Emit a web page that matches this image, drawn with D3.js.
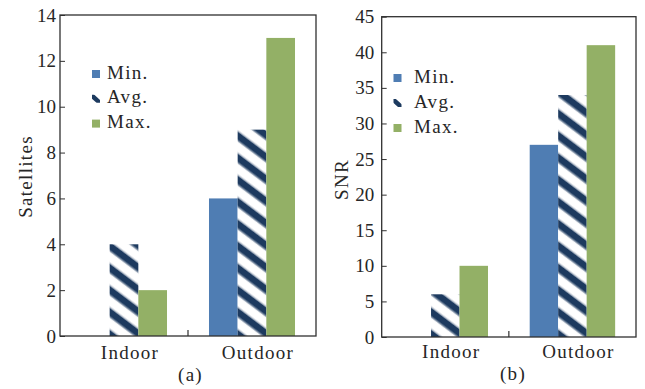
<!DOCTYPE html>
<html>
<head>
<meta charset="utf-8">
<script src="https://cdn.jsdelivr.net/npm/d3@7/dist/d3.min.js"></script>
<style>
  html, body { margin: 0; padding: 0; background: #fff; }
  svg { display: block; }
  text { font-family: "Liberation Serif", "Times New Roman", serif; fill: #262626; }
</style>
</head>
<body>
<svg id="fig" width="645" height="389"></svg>
<script>
// Categories and series
const categories = ["Indoor", "Outdoor"];
const seriesNames = ["Min.", "Avg.", "Max."];

// Panel (a): number of satellites
const satMin = [0, 6];
const satAvg = [4, 9];
const satMax = [2, 13];
const satTicks = [0, 2, 4, 6, 8, 10, 12, 14];

// Panel (b): signal-to-noise ratio
const snrMin = [0, 27];
const snrAvg = [6, 34];
const snrMax = [10, 41];
const snrTicks = [0, 5, 10, 15, 20, 25, 30, 35, 40, 45];

const COLORS = { min: "#4f7db3", max: "#93b066", hatch: "#1d3a5f", axis: "#303030" };
const FONT = 19;

const svg = d3.select("#fig");
svg.append("rect").attr("width", 645).attr("height", 389).attr("fill", "#fff");

// Diagonal stripe fill for the average series
const defs = svg.append("defs");
const pat = defs.append("pattern")
  .attr("id", "hatch")
  .attr("patternUnits", "userSpaceOnUse")
  .attr("width", 20).attr("height", 17.6)
  .attr("patternTransform", "rotate(37)");
pat.append("rect").attr("width", 20).attr("height", 17.6).attr("fill", "#fff");
pat.append("rect").attr("y", 0).attr("width", 20).attr("height", 6.6).attr("fill", COLORS.hatch);
pat.append("rect").attr("y", 6.6).attr("width", 20).attr("height", 1.3).attr("fill", COLORS.hatch).attr("opacity", 0.45);
pat.append("rect").attr("y", 16.3).attr("width", 20).attr("height", 1.3).attr("fill", COLORS.hatch).attr("opacity", 0.45);

const panels = [
  {
    id: "a", ylabel: "Satellites", caption: "(a)",
    min: satMin, avg: satAvg, max: satMax, ticks: satTicks, ymax: 14,
    left: 60, right: 316, top: 15, bottom: 336,
    tickPad: 4, ylabX: 31.5, ylabY: 176.5,
    legX: 92, legY: 74, legStep: 24.8, legTextX: 107,
    xlabY: 358.5, capX: 190.5, capY: 381
  },
  {
    id: "b", ylabel: "SNR", caption: "(b)",
    min: snrMin, avg: snrAvg, max: snrMax, ticks: snrTicks, ymax: 45,
    left: 381.7, right: 636, top: 16.7, bottom: 337,
    tickPad: 7.5, ylabX: 348, ylabY: 179.5,
    legX: 393.5, legY: 78, legStep: 25, legTextX: 414,
    xlabY: 357.5, capX: 513, capY: 380
  }
];

panels.forEach(p => {
  const g = svg.append("g").attr("class", "panel-" + p.id);

  const x0 = d3.scaleBand().domain(categories).range([p.left, p.right]).padding(0);
  const groupW = x0.bandwidth() * 0.672;
  const x1 = d3.scaleBand().domain(seriesNames).range([0, groupW]).padding(0);
  const y = d3.scaleLinear().domain([0, p.ymax]).range([p.bottom, p.top]);

  const rows = categories.map((c, i) => ({
    cat: c,
    vals: [
      { s: "Min.", v: p.min[i], fill: COLORS.min },
      { s: "Avg.", v: p.avg[i], fill: "url(#hatch)" },
      { s: "Max.", v: p.max[i], fill: COLORS.max }
    ]
  }));

  // Bars
  const groups = g.selectAll("g.grp").data(rows).join("g")
    .attr("class", "grp")
    .attr("transform", d => `translate(${x0(d.cat) + (x0.bandwidth() - groupW) / 2},0)`);
  groups.selectAll("rect").data(d => d.vals.filter(v => v.v > 0)).join("rect")
    .attr("x", d => x1(d.s))
    .attr("width", x1.bandwidth())
    .attr("y", d => y(d.v))
    .attr("height", d => y(0) - y(d.v))
    .attr("fill", d => d.fill);

  // Y axis with inward ticks
  const yAxis = d3.axisLeft(y).tickValues(p.ticks).tickSizeInner(-5).tickSizeOuter(0).tickPadding(p.tickPad);
  const ya = g.append("g").attr("transform", `translate(${p.left},0)`).call(yAxis);
  ya.select(".domain").remove();
  ya.selectAll(".tick line").attr("stroke", COLORS.axis).attr("stroke-width", 1);
  ya.selectAll(".tick text").attr("font-size", FONT).attr("font-family", "Liberation Serif").attr("fill", "#262626");

  // X axis labels
  const xAxis = d3.axisBottom(x0).tickSize(0).tickPadding(0);
  const xa = g.append("g").attr("transform", `translate(0,${p.bottom})`).call(xAxis);
  xa.select(".domain").remove();
  xa.selectAll(".tick text")
    .attr("y", p.xlabY - p.bottom).attr("dy", 0).attr("dx", 6)
    .attr("font-size", FONT).attr("font-family", "Liberation Serif")
    .attr("letter-spacing", 1.3).attr("fill", "#262626");

  // Separator tick between the two groups
  g.append("line")
    .attr("x1", x0(categories[1])).attr("x2", x0(categories[1]))
    .attr("y1", p.bottom).attr("y2", p.bottom - 6)
    .attr("stroke", COLORS.axis).attr("stroke-width", 1.2);

  // Frame
  g.append("rect")
    .attr("x", p.left).attr("y", p.top)
    .attr("width", p.right - p.left).attr("height", p.bottom - p.top)
    .attr("fill", "none").attr("stroke", COLORS.axis).attr("stroke-width", 1.3);

  // Y axis title
  g.append("text")
    .attr("transform", `translate(${p.ylabX},${p.ylabY}) rotate(-90)`)
    .attr("text-anchor", "middle")
    .attr("font-size", FONT).attr("letter-spacing", 1.3)
    .text(p.ylabel);

  // Caption
  g.append("text")
    .attr("x", p.capX).attr("y", p.capY)
    .attr("text-anchor", "middle")
    .attr("font-size", FONT).attr("letter-spacing", 1.3)
    .text(p.caption);

  // Legend
  const sq = 8;
  const leg = g.append("g");
  seriesNames.forEach((s, i) => {
    const cy = p.legY + i * p.legStep;
    if (s === "Avg.") {
      const cid = "legclip-" + p.id;
      defs.append("clipPath").attr("id", cid)
        .append("rect").attr("x", p.legX).attr("y", cy - sq / 2).attr("width", sq).attr("height", sq);
      leg.append("line")
        .attr("x1", p.legX - 2).attr("y1", cy - sq / 2 - 1)
        .attr("x2", p.legX + sq + 2).attr("y2", cy + sq / 2 + 2)
        .attr("stroke", COLORS.hatch).attr("stroke-width", 4.5)
        .attr("clip-path", `url(#${cid})`);
    } else {
      leg.append("rect")
        .attr("x", p.legX).attr("y", cy - sq / 2)
        .attr("width", sq).attr("height", sq)
        .attr("fill", s === "Min." ? COLORS.min : COLORS.max);
    }
    leg.append("text")
      .attr("x", p.legTextX).attr("y", cy + 4.6)
      .attr("font-size", FONT).attr("letter-spacing", 1.3)
      .text(s);
  });
});
</script>
</body>
</html>
